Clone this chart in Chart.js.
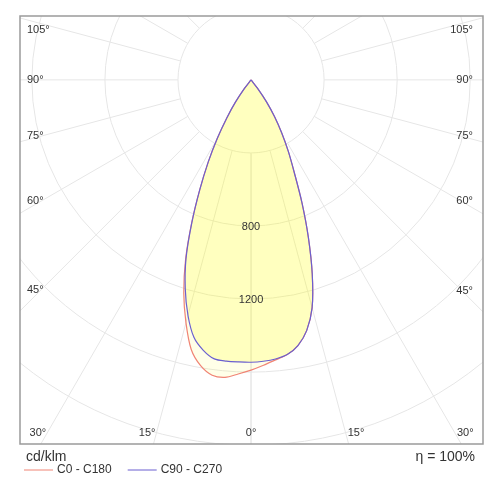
<!DOCTYPE html>
<html>
<head>
<meta charset="utf-8">
<script src="https://cdn.jsdelivr.net/npm/chart.js@4.4.1/dist/chart.umd.min.js"></script>
<style>
  body { margin: 0; background: #fff; }
  #wrap { width: 500px; height: 500px; position: relative; }
</style>
</head>
<body>
<div id="wrap"><canvas id="chart"></canvas></div>
<script>
// gamma angle (deg from nadir) and luminous intensity in cd/klm
const gammaAngles = [0, 2.5, 5, 7.5, 10, 12.5, 15, 17.5, 20, 22.5, 25, 27.5, 30, 32.5, 35, 37.5, 40];
const c0   = [1590, 1565, 1540, 1518, 1478, 1407, 1292, 1114, 917, 728, 560, 442, 335, 240, 149, 59, 0];
const c180 = [1590, 1613, 1636, 1632, 1590, 1513, 1377, 1225, 1048, 850, 664, 508, 369, 247, 149, 59, 0];
const c90  = [1547, 1543, 1535, 1518, 1478, 1407, 1292, 1114, 917, 728, 560, 442, 335, 240, 149, 59, 0];
const c270 = [1547, 1547, 1547, 1542, 1505, 1445, 1335, 1198, 1041, 847, 664, 508, 369, 247, 149, 59, 0];

const ringValues = [400, 800, 1200, 1600, 2000];
const ringLabels = [800, 1200];
const spokeAngles = [0, 15, 30, 45, 60, 75, 90, 105, 120, 135, 150, 165, 180];
const angleLabels = [0, 15, 30, 45, 60, 75, 90, 105];

const rad = d => d * Math.PI / 180;

// left half (C180 / C270) runs from the top down to nadir, right half back up
function curve(leftVals, rightVals) {
  const pts = [];
  for (let i = gammaAngles.length - 1; i >= 0; i--) {
    const g = rad(gammaAngles[i]);
    pts.push({ x: -leftVals[i] * Math.sin(g), y: -leftVals[i] * Math.cos(g) });
  }
  for (let i = 1; i < gammaAngles.length; i++) {
    const g = rad(gammaAngles[i]);
    pts.push({ x: rightVals[i] * Math.sin(g), y: -rightVals[i] * Math.cos(g) });
  }
  return pts;
}

const gridPlugin = {
  id: 'polarGrid',
  beforeDatasetsDraw(chart) {
    const { ctx, chartArea: ca, scales: { x, y } } = chart;
    const cx = x.getPixelForValue(0), cy = y.getPixelForValue(0);
    const k = Math.abs(x.getPixelForValue(100) - cx) / 100;
    ctx.save();
    ctx.beginPath();
    ctx.rect(ca.left, ca.top, ca.right - ca.left, ca.bottom - ca.top);
    ctx.clip();
    ctx.strokeStyle = '#e6e6e6';
    ctx.lineWidth = 1;
    ringValues.forEach(v => {
      ctx.beginPath();
      ctx.arc(cx, cy, v * k, 0, Math.PI * 2);
      ctx.stroke();
    });
    spokeAngles.forEach(a => {
      [-1, 1].forEach(s => {
        const dx = s * Math.sin(rad(a)), dy = Math.cos(rad(a));
        ctx.beginPath();
        ctx.moveTo(cx + dx * 400 * k, cy + dy * 400 * k);
        ctx.lineTo(cx + dx * 2600 * k, cy + dy * 2600 * k);
        ctx.stroke();
      });
    });
    ctx.restore();
  },
  afterDatasetsDraw(chart) {
    const { ctx, chartArea: ca, scales: { x, y } } = chart;
    const cx = x.getPixelForValue(0), cy = y.getPixelForValue(0);
    ctx.save();
    ctx.fillStyle = '#333';
    ctx.font = '11px "Liberation Sans", Arial, sans-serif';
    ctx.textBaseline = 'middle';
    ringLabels.forEach(v => {
      ctx.textAlign = 'center';
      ctx.fillText(String(v), cx, y.getPixelForValue(-v) + 1);
    });
    const bottomY = ca.bottom - 11;
    angleLabels.forEach(a => {
      [-1, 1].forEach(s => {
        if (a === 0 && s === 1) return;
        const txt = a + '°';
        if (a >= 45) {
          const edge = s < 0 ? ca.left + 16 : ca.right - 16;
          let py = cy + Math.abs(edge - cx) / Math.tan(rad(a)) - 7 * Math.cos(rad(a));
          py = Math.max(ca.top + 14, Math.min(bottomY, py));
          ctx.textAlign = s < 0 ? 'left' : 'right';
          ctx.fillText(txt, s < 0 ? ca.left + 7 : ca.right - 10, py);
        } else {
          const px = cx + s * (bottomY - cy) * Math.tan(rad(a));
          if (a === 0) {
            ctx.textAlign = 'center';
            ctx.fillText(txt, px, bottomY);
          } else {
            ctx.textAlign = s < 0 ? 'right' : 'left';
            ctx.fillText(txt, s < 0 ? Math.max(ca.left + 23, px - 1) : Math.min(ca.right - 26, px + 2), bottomY);
          }
        }
      });
    });
    ctx.restore();
  },
  afterDraw(chart) {
    const { ctx, chartArea: ca } = chart;
    ctx.save();
    // frame
    ctx.strokeStyle = '#9a9a9a';
    ctx.lineWidth = 1.5;
    ctx.strokeRect(ca.left, ca.top, ca.right - ca.left, ca.bottom - ca.top);
    ctx.fillStyle = '#333';
    ctx.textBaseline = 'middle';
    ctx.font = '14px "Liberation Sans", Arial, sans-serif';
    ctx.textAlign = 'left';
    ctx.fillText('cd/klm', ca.left + 6, ca.bottom + 13);
    ctx.textAlign = 'right';
    ctx.fillText('η = 100%', ca.right - 8, ca.bottom + 13);
    // legend
    ctx.font = '12px "Liberation Sans", Arial, sans-serif';
    ctx.textAlign = 'left';
    let lx = ca.left + 4;
    const ly = ca.bottom + 26;
    chart.data.datasets.forEach(ds => {
      ctx.strokeStyle = ds.borderColor;
      ctx.lineWidth = 1;
      ctx.beginPath();
      ctx.moveTo(lx, ly);
      ctx.lineTo(lx + 29, ly);
      ctx.stroke();
      ctx.fillText(ds.label, lx + 33, ly);
      lx += 33 + ctx.measureText(ds.label).width + 16;
    });
    ctx.restore();
  }
};

new Chart(document.getElementById('chart'), {
  type: 'scatter',
  data: {
    datasets: [
      {
        label: 'C0 - C180',
        data: curve(c180, c0),
        showLine: true,
        borderColor: '#f08474',
        backgroundColor: 'rgba(255,255,0,0.09)',
        borderWidth: 1.2,
        fill: 'shape',
        tension: 0.3,
        pointRadius: 0,
        order: 2
      },
      {
        label: 'C90 - C270',
        data: curve(c270, c90),
        showLine: true,
        borderColor: '#6a5fd0',
        backgroundColor: 'rgba(255,255,0,0.18)',
        borderWidth: 1.2,
        fill: 'shape',
        tension: 0.3,
        pointRadius: 0,
        order: 1
      }
    ]
  },
  options: {
    responsive: true,
    maintainAspectRatio: false,
    animation: false,
    layout: { padding: { left: 20, top: 16, right: 17, bottom: 56 } },
    scales: {
      x: { type: 'linear', min: -1265, max: 1270, display: false },
      y: { type: 'linear', min: -1995, max: 350, display: false }
    },
    plugins: {
      legend: { display: false },
      tooltip: { enabled: false }
    }
  },
  plugins: [gridPlugin]
});
</script>
</body>
</html>
